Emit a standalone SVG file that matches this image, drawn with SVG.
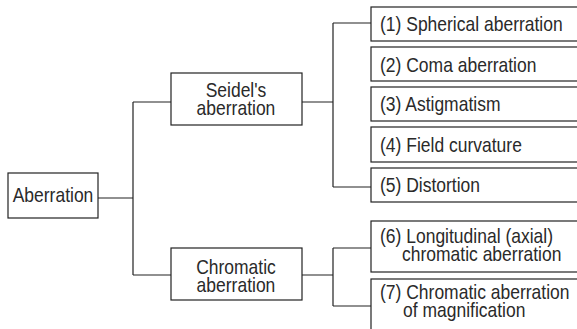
<svg xmlns="http://www.w3.org/2000/svg" width="577" height="329" viewBox="0 0 577 329">
<style>
rect{fill:#fff;stroke:#222;stroke-width:1.2}
text{font-family:"Liberation Sans",Arial,sans-serif;font-size:17.5px;fill:#2a2a2a}
.c{text-anchor:middle}
#connectors path{fill:none;stroke:#222;stroke-width:1.2}
</style>
<rect width="577" height="329" style="stroke:none"/>
<g id="connectors">
<path d="M98 198H133M133 102V275M133 102H171M133 275H171"/>
<path d="M302 102H333M333 23V187M333 23H371M333 187H371"/>
<path d="M302 275H333M333 248V306M333 248H371M333 306H371"/>
</g>
<g id="n-aberration"><rect x="8" y="173" width="90" height="45"/><text x="53" y="202" class="c" transform="matrix(1 0 0 1.12 0 -24.24)">Aberration</text></g>
<g id="n-seidel"><rect x="171" y="73" width="131" height="52"/><text x="236" y="97" class="c" transform="matrix(1 0 0 1.12 0 -11.64)">Seidel's</text><text x="236" y="115" class="c" transform="matrix(1 0 0 1.12 0 -13.8)">aberration</text></g>
<g id="n-chromatic"><rect x="171" y="248" width="131" height="52"/><text x="236" y="274" class="c" transform="matrix(1 0 0 1.12 0 -32.88)">Chromatic</text><text x="236" y="292" class="c" transform="matrix(1 0 0 1.12 0 -35.04)">aberration</text></g>
<g id="n1"><rect x="371" y="7" width="230" height="34"/><text x="380" y="31" transform="matrix(1 0 0 1.12 0 -3.72)">(1) Spherical aberration</text></g>
<g id="n2"><rect x="371" y="47" width="230" height="34"/><text x="380" y="72" transform="matrix(1 0 0 1.12 0 -8.64)">(2) Coma aberration</text></g>
<g id="n3"><rect x="371" y="87" width="230" height="34"/><text x="380" y="111" transform="matrix(1 0 0 1.12 0 -13.32)">(3) Astigmatism</text></g>
<g id="n4"><rect x="371" y="127" width="230" height="35"/><text x="380" y="152" transform="matrix(1 0 0 1.12 0 -18.24)">(4) Field curvature</text></g>
<g id="n5"><rect x="371" y="168" width="230" height="34"/><text x="380" y="192" transform="matrix(1 0 0 1.12 0 -23.04)">(5) Distortion</text></g>
<g id="n6"><rect x="371" y="221" width="230" height="51"/><text x="380" y="243" transform="matrix(1 0 0 1.12 0 -29.16)">(6) Longitudinal (axial)</text><text x="402" y="261" transform="matrix(1 0 0 1.12 0 -31.32)">chromatic aberration</text></g>
<g id="n7"><rect x="371" y="279" width="230" height="60"/><text x="380" y="299" transform="matrix(1 0 0 1.12 0 -35.88)">(7) Chromatic aberration</text><text x="403" y="317" transform="matrix(1 0 0 1.12 0 -38.04)">of magnification</text></g>
</svg>
